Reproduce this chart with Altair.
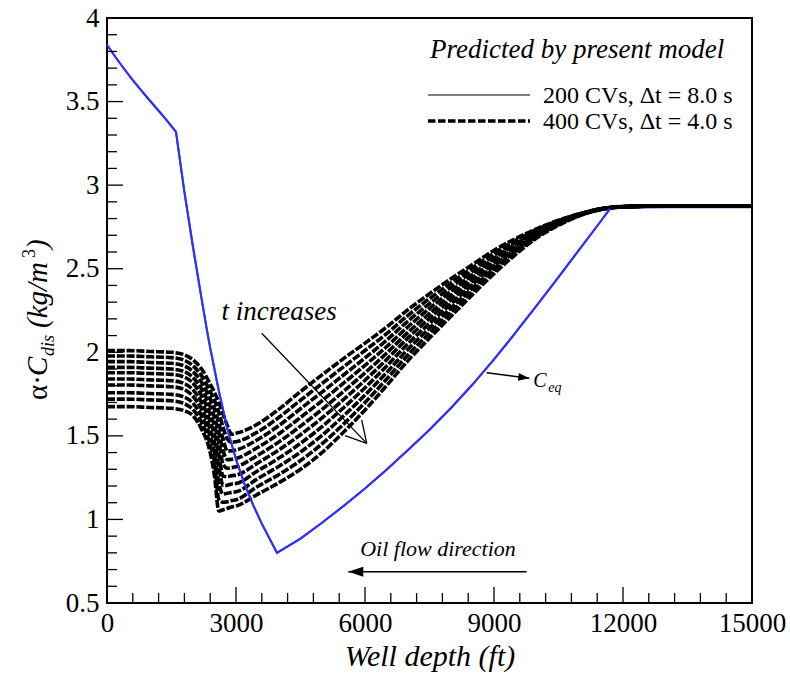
import altair as alt
import pandas as pd

# ---------------- data ----------------
# Equilibrium dissolved concentration along the well (blue curve)
CEQ_DEPTH = [0, 200, 400, 600, 800, 1000, 1200, 1400, 1605, 1800, 2000, 2200, 2326, 2400,
             2600, 2800, 3000, 3200, 3400, 3600, 3800, 3953, 4500, 5000, 5500, 6000, 6500,
             7000, 7500, 8000, 8500, 9000, 9500, 10000, 10500, 11000, 11500, 11700, 12000,
             13000, 14000, 15000]
CEQ_VALUE = [3.840, 3.765, 3.695, 3.628, 3.565, 3.505, 3.445, 3.385, 3.318, 2.960, 2.630,
             2.320, 2.130, 2.026, 1.770, 1.540, 1.360, 1.210, 1.085, 0.975, 0.875, 0.800,
             0.885, 0.980, 1.080, 1.185, 1.297, 1.415, 1.537, 1.667, 1.807, 1.957, 2.117,
             2.282, 2.450, 2.620, 2.790, 2.860, 2.864, 2.867, 2.868, 2.868]

# Dissolved concentration profiles (400 CVs, dt = 4 s), earliest profile first
PROFILE_DEPTH = [0, 500, 1000, 1500, 1800, 2000, 2200, 2400, 2500, 2600, 2700, 2800, 2900,
                 3000, 3500, 4000, 4500, 5000, 5500, 6000, 6500, 7000, 7500, 8000, 8500,
                 9000, 9500, 10000, 10500, 11000, 11500, 12000, 13000, 15000]
PROFILE_ROWS = [
    [2.010, 1.978, 1.944, 1.910, 1.878, 1.840, 1.804, 1.758, 1.720, 1.675],
    [2.010, 1.978, 1.944, 1.910, 1.878, 1.840, 1.804, 1.758, 1.720, 1.675],
    [2.005, 1.973, 1.939, 1.905, 1.873, 1.835, 1.799, 1.753, 1.715, 1.670],
    [2.000, 1.968, 1.934, 1.900, 1.868, 1.830, 1.794, 1.748, 1.710, 1.665],
    [1.985, 1.952, 1.918, 1.884, 1.851, 1.813, 1.777, 1.731, 1.692, 1.650],
    [1.955, 1.920, 1.885, 1.850, 1.815, 1.775, 1.737, 1.695, 1.658, 1.620],
    [1.900, 1.860, 1.820, 1.780, 1.740, 1.700, 1.660, 1.620, 1.580, 1.540],
    [1.810, 1.765, 1.720, 1.675, 1.630, 1.585, 1.540, 1.495, 1.450, 1.400],
    [1.760, 1.710, 1.660, 1.610, 1.560, 1.510, 1.460, 1.400, 1.340, 1.260],
    [1.700, 1.640, 1.575, 1.520, 1.460, 1.390, 1.320, 1.220, 1.120, 1.050],
    [1.630, 1.550, 1.480, 1.410, 1.330, 1.258, 1.203, 1.152, 1.103, 1.058],
    [1.560, 1.480, 1.410, 1.357, 1.306, 1.256, 1.205, 1.156, 1.106, 1.066],
    [1.510, 1.462, 1.410, 1.360, 1.310, 1.262, 1.212, 1.162, 1.113, 1.075],
    [1.515, 1.465, 1.415, 1.365, 1.315, 1.265, 1.215, 1.165, 1.118, 1.080],
    [1.570, 1.523, 1.477, 1.430, 1.383, 1.337, 1.290, 1.243, 1.197, 1.150],
    [1.660, 1.611, 1.562, 1.513, 1.464, 1.416, 1.367, 1.318, 1.269, 1.220],
    [1.765, 1.713, 1.662, 1.610, 1.558, 1.507, 1.455, 1.403, 1.352, 1.300],
    [1.865, 1.813, 1.762, 1.710, 1.658, 1.607, 1.555, 1.503, 1.452, 1.400],
    [1.962, 1.913, 1.864, 1.815, 1.766, 1.717, 1.668, 1.619, 1.570, 1.522],
    [2.055, 2.011, 1.966, 1.922, 1.877, 1.833, 1.788, 1.744, 1.699, 1.655],
    [2.150, 2.111, 2.072, 2.033, 1.994, 1.956, 1.917, 1.878, 1.839, 1.800],
    [2.255, 2.221, 2.187, 2.153, 2.119, 2.086, 2.052, 2.018, 1.984, 1.950],
    [2.350, 2.321, 2.291, 2.262, 2.232, 2.203, 2.173, 2.144, 2.114, 2.085],
    [2.440, 2.415, 2.390, 2.365, 2.340, 2.315, 2.290, 2.265, 2.240, 2.215],
    [2.525, 2.505, 2.485, 2.465, 2.445, 2.425, 2.405, 2.385, 2.365, 2.345],
    [2.610, 2.594, 2.579, 2.563, 2.548, 2.532, 2.517, 2.501, 2.486, 2.470],
    [2.680, 2.669, 2.659, 2.648, 2.638, 2.627, 2.617, 2.606, 2.596, 2.585],
    [2.740, 2.734, 2.728, 2.722, 2.716, 2.709, 2.703, 2.697, 2.691, 2.685],
    [2.790, 2.787, 2.783, 2.780, 2.777, 2.773, 2.770, 2.767, 2.763, 2.760],
    [2.830, 2.829, 2.827, 2.826, 2.825, 2.823, 2.822, 2.821, 2.819, 2.818],
    [2.860, 2.859, 2.859, 2.858, 2.858, 2.857, 2.857, 2.856, 2.856, 2.855],
    [2.872, 2.872, 2.871, 2.871, 2.871, 2.871, 2.870, 2.870, 2.870, 2.870],
    [2.875, 2.875, 2.875, 2.875, 2.875, 2.875, 2.875, 2.875, 2.875, 2.875],
    [2.875, 2.875, 2.875, 2.875, 2.875, 2.875, 2.875, 2.875, 2.875, 2.875],
]

# Axis ticks
X_MAJOR = [0, 3000, 6000, 9000, 12000, 15000]
X_MINOR = [600, 1200, 1800, 2400, 3600, 4200, 4800, 5400, 6600, 7200, 7800, 8400,
           9600, 10200, 10800, 11400, 12600, 13200, 13800, 14400]
Y_MAJOR = [0.5, 1.0, 1.5, 2.0, 2.5, 3.0, 3.5, 4.0]
Y_MINOR = [0.6, 0.7, 0.8, 0.9, 1.1, 1.2, 1.3, 1.4, 1.6, 1.7, 1.8, 1.9, 2.1, 2.2, 2.3, 2.4,
           2.6, 2.7, 2.8, 2.9, 3.1, 3.2, 3.3, 3.4, 3.6, 3.7, 3.8, 3.9]

# Annotation arrows (depth ft, concentration)
T_ARROW_SEGMENTS = [  # x, y, x2, y2
    [3598, 2.114, 6040, 1.455],
    [5923, 1.595, 6040, 1.455],
    [5535, 1.501, 6040, 1.455],
]
OIL_ARROW = [9760, 5612, 0.687]      # from, to, level
CEQ_ARROW = [8830, 1.878, 9821, 1.844]

# ---------------- chart ----------------
W, H = 645, 585
FONT = "Liberation Serif"
BLUE = "#2f2fff"

xs = alt.Scale(domain=[0, 15000], nice=False, zero=False)
ys = alt.Scale(domain=[0.5, 4], nice=False, zero=False)

X_AXIS = alt.Axis(values=X_MAJOR, format="d", domain=False, ticks=False, grid=False,
                  labelFont=FONT, labelFontSize=27, labelColor="black", labelPadding=7,
                  labelFlush=False, title="Well depth (ft)", titleFont=FONT,
                  titleFontSize=30, titleFontStyle="italic", titleFontWeight="normal",
                  titleColor="black", titlePadding=5)
Y_AXIS = alt.Axis(values=Y_MAJOR, format="~g", domain=False, ticks=False, grid=False,
                  labelFont=FONT, labelFontSize=27, labelColor="black", labelPadding=8,
                  labelFlush=False, title=None)


def X(field):
    return alt.X(field, type="quantitative", scale=xs, axis=X_AXIS)


def Y(field):
    return alt.Y(field, type="quantitative", scale=ys, axis=Y_AXIS)


def one_row():
    return pd.DataFrame({"k": [0]})


ceq_df = pd.DataFrame({"depth": CEQ_DEPTH, "c": CEQ_VALUE})
prof_df = pd.DataFrame(
    [{"depth": d, "c": v, "profile": k}
     for d, row in zip(PROFILE_DEPTH, PROFILE_ROWS) for k, v in enumerate(row)]
)

# Blue equilibrium line underneath (shows through the dash gaps on the plateau)
ceq_back = alt.Chart(ceq_df).mark_line(color=BLUE, strokeWidth=2).encode(
    x=X("depth"), y=Y("c"))

profiles = alt.Chart(prof_df).mark_line(
    color="black", strokeWidth=3.6, strokeDash=[8, 1.8], interpolate="monotone"
).encode(x=X("depth"), y=Y("c"), detail="profile:N")

ceq_front = alt.Chart(ceq_df).transform_filter("datum.depth <= 11700").mark_line(
    color=BLUE, strokeWidth=2).encode(x=X("depth"), y=Y("c"))


# Inward axis ticks
def x_ticks(vals, length):
    return alt.Chart(pd.DataFrame({"d": vals})).mark_rule(color="black", strokeWidth=1.3).encode(
        x=X("d"), y=alt.value(H), y2=alt.value(H - length))


def y_ticks(vals, length):
    return alt.Chart(pd.DataFrame({"v": vals})).mark_rule(color="black", strokeWidth=1.3).encode(
        y=Y("v"), x=alt.value(0), x2=alt.value(length))


# "t increases" arrow
t_df = pd.DataFrame(T_ARROW_SEGMENTS, columns=["x", "y", "x2", "y2"])
t_arrow = alt.Chart(t_df).mark_rule(color="black", strokeWidth=1.3).encode(
    x=X("x"), y=Y("y"), x2="x2:Q", y2="y2:Q")
t_text = alt.Chart(pd.DataFrame({"x": [4005], "y": [2.193]})).mark_text(
    text="t increases", font=FONT, fontSize=27, fontStyle="italic", align="center",
    baseline="alphabetic", color="black"
).encode(x=X("x"), y=Y("y"))

# Oil flow direction arrow
oil_df = pd.DataFrame({"x": [OIL_ARROW[0]], "x2": [OIL_ARROW[1]], "y": [OIL_ARROW[2]]})
oil_line = alt.Chart(oil_df).mark_rule(color="black", strokeWidth=1.5).encode(
    x=X("x"), x2="x2:Q", y=Y("y"))
oil_head = alt.Chart(oil_df).mark_point(
    shape="M0,0L2,-0.667L2,0.667Z", size=225, filled=True, opacity=1, color="black",
    strokeWidth=0
).encode(x=X("x2"), y=Y("y"))
oil_text = alt.Chart(pd.DataFrame({"x": [7698], "y": [0.781]})).mark_text(
    text="Oil flow direction", font=FONT, fontSize=22, fontStyle="italic", align="center",
    baseline="alphabetic", color="black"
).encode(x=X("x"), y=Y("y"))

# C_eq pointer
ceq_a = pd.DataFrame({"x": [CEQ_ARROW[0]], "y": [CEQ_ARROW[1]],
                      "x2": [CEQ_ARROW[2]], "y2": [CEQ_ARROW[3]]})
ceq_line = alt.Chart(ceq_a).mark_rule(color="black", strokeWidth=1.5).encode(
    x=X("x"), y=Y("y"), x2="x2:Q", y2="y2:Q")
ceq_head = alt.Chart(ceq_a).mark_point(
    shape="M0,0L-2,-0.7L-2,0.7Z", size=121, filled=True, opacity=1, color="black",
    strokeWidth=0, angle=7.5
).encode(x=X("x2"), y=Y("y2"))
ceq_c = alt.Chart(pd.DataFrame({"x": [9914], "y": [1.794]})).mark_text(
    text="C", font=FONT, fontSize=20, fontStyle="italic", align="left",
    baseline="alphabetic", color="black"
).encode(x=X("x"), y=Y("y"))
ceq_sub = alt.Chart(pd.DataFrame({"x": [10263], "y": [1.762]})).mark_text(
    text="eq", font=FONT, fontSize=14, fontStyle="italic", align="left",
    baseline="alphabetic", color="black"
).encode(x=X("x"), y=Y("y"))


# Legend block and rotated y title (pixel-placed text)
def label(text, x, y, size, italic=True, align="left", angle=0):
    kw = dict(text=text, font=FONT, fontSize=size, align=align, baseline="alphabetic",
              color="black", angle=angle)
    if italic:
        kw["fontStyle"] = "italic"
    return alt.Chart(one_row()).mark_text(**kw).encode(x=alt.value(x), y=alt.value(y))


leg_title = label("Predicted by present model", 323, 40, 27)
leg_t1 = label("200 CVs, \u0394t = 8.0 s", 436, 85, 24, italic=False)
leg_t2 = label("400 CVs, \u0394t = 4.0 s", 436, 111, 24, italic=False)
leg_l1 = alt.Chart(one_row()).mark_rule(color="black", strokeWidth=1.2).encode(
    x=alt.value(321), x2=alt.value(423), y=alt.value(77))
leg_l2 = alt.Chart(one_row()).mark_rule(color="black", strokeWidth=3.5,
                                        strokeDash=[7.5, 2.5]).encode(
    x=alt.value(321), x2=alt.value(423), y=alt.value(103))

yt1 = label("\u03b1\u00b7", -60, 382, 29, italic=False, angle=270)
yt2 = label("C", -60, 358, 29, angle=270)
yt3 = label("dis", -53, 338, 18, angle=270)
yt4 = label("(kg/m", -60, 310, 29, angle=270)
yt5 = label("3", -72, 240, 18, italic=False, angle=270)
yt6 = label(")", -60, 231, 29, angle=270)

chart = alt.layer(
    ceq_back, profiles, ceq_front,
    x_ticks(X_MAJOR, 16), x_ticks(X_MINOR, 10), y_ticks(Y_MAJOR, 16), y_ticks(Y_MINOR, 10),
    t_arrow, t_text, oil_line, oil_head, oil_text, ceq_line, ceq_head, ceq_c, ceq_sub,
    leg_title, leg_t1, leg_t2, leg_l1, leg_l2,
    yt1, yt2, yt3, yt4, yt5, yt6,
).properties(
    width=W, height=H,
    autosize=alt.AutoSizeParams(type="none"),
    padding={"left": 107, "top": 18, "right": 38, "bottom": 79},
).configure(font=FONT).configure_axis(
    labelFont=FONT, titleFont=FONT
).configure_text(font=FONT).configure_view(stroke="black", strokeWidth=2)

chart.save("out.html", embed_options={"renderer": "svg", "actions": False})
